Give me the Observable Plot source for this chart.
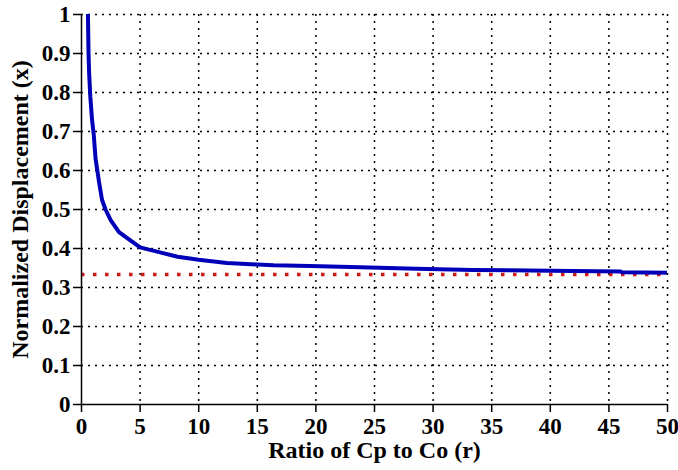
<!DOCTYPE html>
<html>
<head>
<meta charset="utf-8">
<script src="https://cdn.jsdelivr.net/npm/d3@7"></script>
<script src="https://cdn.jsdelivr.net/npm/@observablehq/plot@0.6"></script>
<style>
  html, body { margin: 0; padding: 0; background: #fff; }
  svg { display: block; }
</style>
</head>
<body>
<div id="chart"></div>
<script>
// Ratio of Cp to Co (r)
const rValues = [0.55, 0.6, 0.65, 0.75, 0.9, 1.05, 1.2, 1.35, 1.5, 1.75, 2.05, 2.5, 3.2, 4.2, 5.0, 6.7, 8.2, 10, 12.4, 15, 16.4, 19.5, 23.8, 28.6, 33.4, 40, 46, 46.1, 50];
// Normalized Displacement (x)
const xValues = [1.0, 0.9, 0.85, 0.79, 0.73, 0.69, 0.63, 0.6, 0.57, 0.525, 0.5, 0.472, 0.442, 0.42, 0.403, 0.39, 0.379, 0.371, 0.363, 0.359, 0.357, 0.355, 0.352, 0.348, 0.345, 0.343, 0.341, 0.339, 0.338];
// Asymptote (1/3)
const asymptote = [1 / 3];
const xTicks = [0, 5, 10, 15, 20, 25, 30, 35, 40, 45, 50];
const yTicks = [0, 0.1, 0.2, 0.3, 0.4, 0.5, 0.6, 0.7, 0.8, 0.9, 1];
const xTitle = "Ratio of Cp to Co (r)";
const yTitle = "Normalized Displacement (x)";

const curve = rValues.map((r, i) => ({r, x: xValues[i]}));
const font = "'Liberation Serif', 'Times New Roman', serif";

const chart = Plot.plot({
  width: 678,
  height: 470,
  marginLeft: 81,
  marginRight: 11,
  marginTop: 14,
  marginBottom: 66,
  style: {fontFamily: font, fontWeight: "bold", fontSize: "23px", color: "#000", background: "#fff"},
  x: {domain: [0, 50]},
  y: {domain: [0, 1]},
  marks: [
    Plot.ruleX(xTicks.filter(d => d > 0), {stroke: "#000", strokeWidth: 1.5, strokeDasharray: "2,5"}),
    Plot.ruleY(yTicks.filter(d => d > 0), {stroke: "#000", strokeWidth: 1.5, strokeDasharray: "2,5"}),
    Plot.ruleY(asymptote, {stroke: "#d01818", strokeWidth: 3.5, strokeDasharray: "3.5,8.5"}),
    Plot.line(curve, {x: "r", y: "x", stroke: "#0000b8", strokeWidth: 4, clip: true}),
    Plot.ruleX([0], {stroke: "#000", strokeWidth: 1.5}),
    Plot.ruleY([0], {stroke: "#000", strokeWidth: 1.5}),
    Plot.axisX(xTicks, {tickSize: 8, tickPadding: 5, label: null, fontSize: 23, fontWeight: "bold", strokeWidth: 1.5}),
    Plot.axisY(yTicks, {tickSize: 8, tickPadding: 3, label: null, tickFormat: d3.format("~g"), fontSize: 23, fontWeight: "bold", strokeWidth: 1.5}),
    Plot.text([xTitle], {frameAnchor: "bottom", dy: 46, fontSize: 24, fontWeight: "bold", lineAnchor: "middle", textAnchor: "middle"}),
    Plot.text([yTitle], {frameAnchor: "left", dx: -61, dy: 0, rotate: -90, fontSize: 24, fontWeight: "bold", lineAnchor: "middle", textAnchor: "middle"})
  ]
});
document.getElementById("chart").appendChild(chart);
</script>
</body>
</html>
